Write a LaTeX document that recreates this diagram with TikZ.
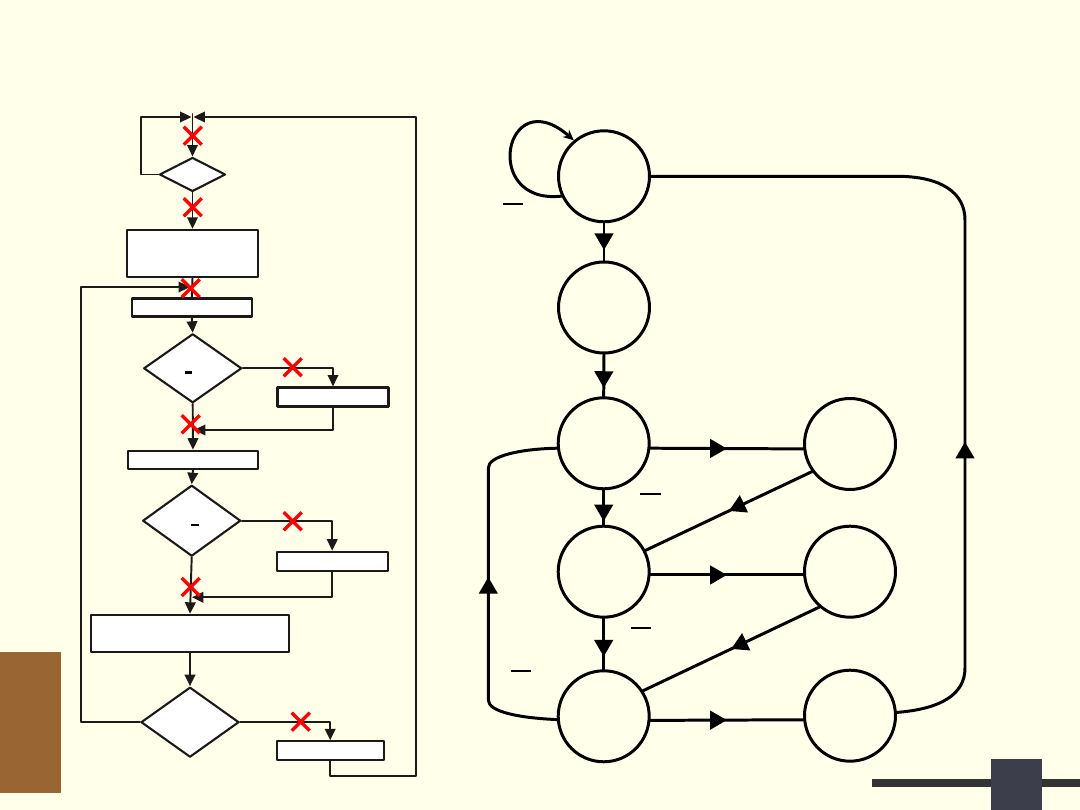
\documentclass[tikz,border=0pt]{standalone}
\usepackage{xcolor}
\usetikzlibrary{
  arrows.meta,
  shapes.geometric,
  decorations.markings
}
\definecolor{paperC}{HTML}{FFFFEA}
\definecolor{inkC}{HTML}{1C1A18}
\definecolor{crossC}{HTML}{FF0000}
\definecolor{brownC}{HTML}{996633}
\definecolor{barC}{HTML}{333333}
\definecolor{tileC}{HTML}{3D3E4C}
\def\px{0.02cm}

\begin{document}
\begin{tikzpicture}[
  x=0.02cm,
  y=-0.02cm,
  line cap=round,
  line join=round,
  box/.style={draw=inkC, fill=white, line width=1.2pt, inner sep=0pt},
  decide/.style={diamond, draw=inkC, fill=white, line width=1.2pt, inner sep=0pt},
  flow/.style={draw=inkC, line width=1.1pt, -{Triangle[length=6.5pt,width=6pt]}},
  wire/.style={draw=inkC, line width=1.1pt},
  xmark/.style={crossC, line width=1.9pt, line cap=butt},
  stnode/.style={circle, draw=black, line width=1.7pt, minimum size=1.82cm, inner sep=0pt},
  trans/.style={draw=black, line width=1.7pt},
  midarrow/.style={postaction={decorate}, decoration={markings,
    mark=at position #1 with {\arrow{Triangle[length=9.5pt,width=10.5pt]}}}},
  bar/.style={draw=black, line width=1.1pt, line cap=butt}
]

% Page and slide furniture.
\useasboundingbox (0,0) rectangle (1080,810);
\fill[paperC] (0,0) rectangle (1080,810);
\fill[brownC] (0,651.7) rectangle (61,793.3);
\fill[barC] (872,779.3) rectangle (1080,787.3);
\fill[tileC] (990.7,759) rectangle (1041.7,810);

% Flowchart blocks.
\node[decide, minimum width=66*\px, minimum height=34*\px] (d1) at (192.5,174.5) {};
\node[box, minimum width=131*\px, minimum height=47*\px] (b1) at (192.5,253.3) {};
\node[box, minimum width=120*\px, minimum height=18*\px] (b2) at (191.8,307.5) {};
\node[decide, minimum width=98*\px, minimum height=69*\px] (d2) at (192.7,368.3) {};
\node[box, minimum width=111*\px, minimum height=19*\px] (b3) at (333,397) {};
\node[box, minimum width=130*\px, minimum height=18*\px] (b4) at (193,459.7) {};
\node[decide, minimum width=98*\px, minimum height=71*\px] (d3) at (191.7,520.7) {};
\node[box, minimum width=111*\px, minimum height=19*\px] (b5) at (332.2,561.2) {};
\node[box, minimum width=198*\px, minimum height=37*\px] (b6) at (190,633.3) {};
\node[decide, minimum width=98*\px, minimum height=70*\px] (d4) at (190,722.2) {};
\node[box, minimum width=107*\px, minimum height=19*\px] (b7) at (330.2,750.8) {};

% Marks inside the tests.
\draw[bar, line width=1.5pt] (185,372.7) -- (191.7,372.7);
\draw[bar, line width=1.5pt] (191,525) -- (199,525);

% Junctions.
\coordinate (jTop) at (192.5,114);
\coordinate (jTopL) at (191.5,117);
\coordinate (jTopR) at (193.5,117);
\coordinate (lT) at (141,117);
\coordinate (rT) at (416,117);
\coordinate (rB) at (416,776);
\coordinate (lL) at (81,722.2);
\coordinate (j1) at (190,287);
\coordinate (j2) at (194,430);
\coordinate (j3) at (192,597.3);

% Flowchart connectors.
\draw[flow] (jTop) -- (d1.north);
\draw[flow] (d1.west) -| (lT) -- (jTopL);
\draw[flow] (b7.south) |- (rB) -- (rT) -- (jTopR);
\draw[flow] (d1.south) -- (b1.north);
\draw[wire] (b1.south) -- (b2.north);
\draw[flow] (d4.west) -- (lL) |- (j1);
\draw[flow] (b2.south) -- (d2.north);
\draw[flow] (d2.east) -| (b3.north);
\draw[flow] (b3.south) |- (j2);
\draw[flow] (d2.south) -- (b4.north);
\draw[flow] (b4.south) -- (d3.north);
\draw[flow] (d3.east) -| (b5.north);
\draw[flow] (b5.south) |- (j3);
\draw[flow] (d3.south) -- (b6.north);
\draw[flow] (b6.south) -- (d4.north);
\draw[flow] (d4.east) -| (b7.north);

% Cut edges.
\foreach \x/\y in {192.7/135.7, 192.7/207.3, 190.7/288.3, 292.7/367.3,
                   190.7/424.3, 292.7/521.3, 190.7/587, 300.7/721.7}{
  \draw[xmark] (\x-9,\y-9) -- (\x+9,\y+9) (\x-9,\y+9) -- (\x+9,\y-9);
}

% State graph.
\node[stnode] (q1) at (604,176.3) {};
\node[stnode] (q2) at (604,307.5) {};
\node[stnode] (q3) at (603.7,443.3) {};
\node[stnode] (q4) at (603.7,571.7) {};
\node[stnode] (q5) at (603.7,716.3) {};
\node[stnode] (p1) at (850,444) {};
\node[stnode] (p2) at (850,571.7) {};
\node[stnode] (p3) at (850,715.7) {};

\coordinate (lB) at (488.3,700);
\coordinate (lU) at (488.3,468);
\coordinate (pB) at (965,668);
\coordinate (pT) at (965,220);
\coordinate (pC) at (897,176.3);

\draw[trans, -{Stealth[length=6pt,width=5.5pt]}] (q1.205)
  .. controls (480,205) and (505,80) .. (q1.130);
\draw[trans, midarrow=0.72] (q1.south) -- (q2.north);
\draw[trans, midarrow=0.8] (q2.south) -- (q3.north);
\draw[trans, midarrow=0.9] (q3.south) -- (q4.north);
\draw[trans, midarrow=0.75] (q4.south) -- (q5.north);
\draw[trans, midarrow=0.5] (q3.-6) -- (p1.186);
\draw[trans, midarrow=0.5] (q4.-4) -- (p2.184);
\draw[trans, midarrow=0.5] (q5.-5) -- (p3.185);
\draw[trans, midarrow=0.5] (p1.216) -- (q4.27);
\draw[trans, midarrow=0.5] (p2.229) -- (q5.33);

% Return paths.
\draw[trans] (q5.184) .. controls (520,718) and (488.3,712) .. (lB)
  -- (lU) .. controls (488.3,456) and (520,449) .. (q3.186);
\draw[trans, midarrow=0.53] (lB) -- (lU);
\draw[trans] (p3.4) .. controls (940,709) and (965,695) .. (pB)
  -- (pT) .. controls (965,192) and (940,176.3) .. (pC) -- (q1.east);
\draw[trans, midarrow=0.505] (pB) -- (pT);

% Overbars.
\draw[bar] (503.3,204) -- (523.3,204);
\draw[bar] (640,494) -- (660.7,494);
\draw[bar] (630.7,628.3) -- (651,628.3);
\draw[bar] (510.7,671) -- (531.3,671);

\end{tikzpicture}
\end{document}
